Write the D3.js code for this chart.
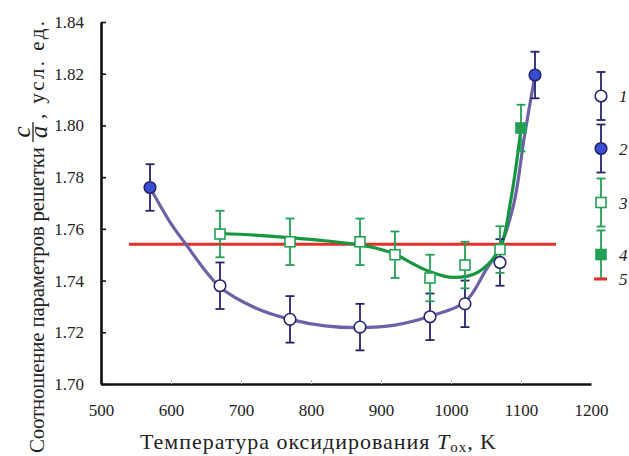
<!DOCTYPE html>
<html>
<head>
<meta charset="utf-8">
<script src="https://cdn.jsdelivr.net/npm/d3@7"></script>
<style>
  html, body { margin: 0; padding: 0; background: #fff; }
  svg { display: block; }
  svg text { font-family: "Liberation Serif", "Times New Roman", "DejaVu Serif", serif; fill: #222; }
</style>
</head>
<body>
<svg id="chart" width="629" height="456"></svg>
<script>
// Measured lattice ratio c/a versus oxidation temperature
const temps1 = [670, 770, 870, 970, 1020, 1070];
const vals1  = [1.738, 1.725, 1.722, 1.726, 1.731, 1.747];
const err1   = [0.009, 0.009, 0.009, 0.009, 0.009, 0.009];

const temps2 = [570, 1120];
const vals2  = [1.776, 1.8195];
const err2   = [0.009, 0.009];

const temps3 = [670, 770, 870, 920, 970, 1020, 1070];
const vals3  = [1.758, 1.755, 1.755, 1.750, 1.741, 1.746, 1.752];
const err3   = [0.009, 0.009, 0.009, 0.009, 0.009, 0.009, 0.009];

const temps4 = [1100];
const vals4  = [1.799];
const err4   = [0.009];

// Reference (ideal) ratio, line 5
const refValue = 1.754;
const refRange = [540, 1150];

// Fitted trend curves
const fitTempsA = [570, 600, 620, 670, 720, 770, 820, 870, 920, 970, 1020, 1050, 1070, 1090, 1105, 1120];
const fitValsA  = [1.776, 1.762, 1.7545, 1.7375, 1.7295, 1.725, 1.7225, 1.7218, 1.7228, 1.7262, 1.7317, 1.7441, 1.7528, 1.770, 1.7960, 1.8195];
const fitTempsB = [670, 720, 770, 820, 870, 895, 920, 945, 970, 1003, 1040, 1070, 1085, 1100];
const fitValsB  = [1.7582, 1.7576, 1.7566, 1.7554, 1.7538, 1.7524, 1.7502, 1.7466, 1.7434, 1.7412, 1.7435, 1.7528, 1.7705, 1.7986];

const xTicks = [500, 600, 700, 800, 900, 1000, 1100, 1200];
const yTicks = [1.70, 1.72, 1.74, 1.76, 1.78, 1.80, 1.82, 1.84];
const legendLabels = ["1", "2", "3", "4", "5"];

const serif = "Liberation Serif, Times New Roman, DejaVu Serif, serif";
const navy = "#26246f";
const lavender = "#6d62a8";
const blueFill = "#3a4fd0";
const green = "#23a055";
const greenLine = "#16973f";
const red = "#e5302a";

const svg = d3.select("#chart");
const x = d3.scaleLinear().domain([500, 1200]).range([101, 591]);
const y = d3.scaleLinear().domain([1.70, 1.84]).range([384, 22]);

// Axes
const gx = svg.append("g").attr("transform", `translate(0,${y(1.70)})`)
  .call(d3.axisBottom(x).tickValues(xTicks).tickSize(-4).tickSizeOuter(0).tickPadding(20).tickFormat(d3.format("d")));
gx.attr("font-family", serif).attr("font-size", 17);
gx.select(".domain").attr("stroke", "#111").attr("stroke-width", 2.6);
gx.selectAll(".tick line").attr("stroke", "#bbb").attr("stroke-width", 1)
  .filter(d => d === 500 || d === 1200).remove();
gx.selectAll(".tick text").style("font-size", "17px").attr("fill", "#222");

const gy = svg.append("g").attr("transform", `translate(${x(500)},0)`)
  .call(d3.axisLeft(y).tickValues(yTicks).tickSize(-5).tickSizeOuter(0).tickPadding(17).tickFormat(d3.format(".2f")));
gy.attr("font-family", serif).attr("font-size", 17);
gy.select(".domain").attr("stroke", "#111").attr("stroke-width", 2.6);
gy.selectAll(".tick line").attr("stroke", "#111").attr("stroke-width", 1.6);
gy.selectAll(".tick text").style("font-size", "17px").attr("fill", "#222");

// Reference line
svg.append("line")
  .attr("x1", x(refRange[0])).attr("x2", x(refRange[1]))
  .attr("y1", y(refValue)).attr("y2", y(refValue))
  .attr("stroke", red).attr("stroke-width", 3);

// Trend curves
const line = d3.line().x(d => x(d[0])).y(d => y(d[1])).curve(d3.curveCatmullRom.alpha(0.5));
svg.append("path").datum(d3.zip(fitTempsA, fitValsA)).attr("d", line)
  .attr("fill", "none").attr("stroke", lavender).attr("stroke-width", 3.2);
svg.append("path").datum(d3.zip(fitTempsB, fitValsB)).attr("d", line)
  .attr("fill", "none").attr("stroke", greenLine).attr("stroke-width", 3.2);

// Error bars
function errorBars(temps, vals, errs, color) {
  const g = svg.append("g").attr("stroke", color).attr("stroke-width", 1.8);
  temps.forEach((t, i) => {
    const cx = x(t), top = y(vals[i] + errs[i]), bot = y(vals[i] - errs[i]);
    g.append("line").attr("x1", cx).attr("x2", cx).attr("y1", top).attr("y2", bot);
    g.append("line").attr("x1", cx - 4.5).attr("x2", cx + 4.5).attr("y1", top).attr("y2", top);
    g.append("line").attr("x1", cx - 4.5).attr("x2", cx + 4.5).attr("y1", bot).attr("y2", bot);
  });
}
errorBars(temps1, vals1, err1, navy);
errorBars(temps2, vals2, err2, navy);
errorBars(temps3, vals3, err3, green);
errorBars(temps4, vals4, err4, green);

// Markers
function circles(temps, vals, fill) {
  svg.append("g").selectAll("circle").data(d3.zip(temps, vals)).join("circle")
    .attr("cx", d => x(d[0])).attr("cy", d => y(d[1])).attr("r", 5.8)
    .attr("fill", fill).attr("stroke", navy).attr("stroke-width", 1.6);
}
function squares(temps, vals, fill) {
  svg.append("g").selectAll("rect").data(d3.zip(temps, vals)).join("rect")
    .attr("x", d => x(d[0]) - 5).attr("y", d => y(d[1]) - 5)
    .attr("width", 10).attr("height", 10)
    .attr("fill", fill).attr("stroke", green).attr("stroke-width", 1.6);
}
circles(temps1, vals1, "#fff");
circles(temps2, vals2, blueFill);
squares(temps3, vals3, "#fff");
squares(temps4, vals4, green);

// Legend
const lg = svg.append("g");
const lx = 601;
const legendY = [96, 148.5, 202.5, 254.5, 279];
const legendErr = 24;
function legendBar(cy, color) {
  const g = lg.append("g").attr("stroke", color).attr("stroke-width", 1.8);
  g.append("line").attr("x1", lx).attr("x2", lx).attr("y1", cy - legendErr).attr("y2", cy + legendErr);
  g.append("line").attr("x1", lx - 4.5).attr("x2", lx + 4.5).attr("y1", cy - legendErr).attr("y2", cy - legendErr);
  g.append("line").attr("x1", lx - 4.5).attr("x2", lx + 4.5).attr("y1", cy + legendErr).attr("y2", cy + legendErr);
}
legendBar(legendY[0], navy);
lg.append("circle").attr("cx", lx).attr("cy", legendY[0]).attr("r", 5.8).attr("fill", "#fff").attr("stroke", navy).attr("stroke-width", 1.6);
legendBar(legendY[1], navy);
lg.append("circle").attr("cx", lx).attr("cy", legendY[1]).attr("r", 5.8).attr("fill", blueFill).attr("stroke", navy).attr("stroke-width", 1.6);
legendBar(legendY[2], green);
lg.append("rect").attr("x", lx - 5).attr("y", legendY[2] - 5).attr("width", 10).attr("height", 10).attr("fill", "#fff").attr("stroke", green).attr("stroke-width", 1.6);
legendBar(legendY[3], green);
lg.append("rect").attr("x", lx - 5).attr("y", legendY[3] - 5).attr("width", 10).attr("height", 10).attr("fill", green).attr("stroke", green).attr("stroke-width", 1.6);
lg.append("line").attr("x1", lx - 7).attr("x2", lx + 6).attr("y1", legendY[4]).attr("y2", legendY[4]).attr("stroke", red).attr("stroke-width", 3);
legendLabels.forEach((lab, i) => {
  lg.append("text").attr("x", 619).attr("y", legendY[i] + 6)
    .attr("font-size", 17).attr("font-style", "italic").text(lab);
});

// X axis title
const xt = svg.append("text").attr("x", 318).attr("y", 449).attr("text-anchor", "middle")
  .attr("font-size", 22).attr("textLength", 356).attr("lengthAdjust", "spacing");
xt.append("tspan").text("Температура оксидирования ");
xt.append("tspan").attr("font-style", "italic").text("T");
xt.append("tspan").attr("font-size", 15).attr("dy", 3).text("ox");
xt.append("tspan").attr("dy", -3).text(", K");

// Y axis title with the c/a fraction
const yt = svg.append("g").attr("transform", "translate(44,453) rotate(-90)");
yt.append("text").attr("x", 0).attr("y", 0).attr("font-size", 21)
  .attr("textLength", 306).attr("lengthAdjust", "spacing").text("Соотношение параметров решетки");
const w1 = 306;
const fx = w1 + 15;
yt.append("text").attr("x", fx).attr("y", -14).attr("text-anchor", "middle")
  .attr("font-size", 25).attr("font-style", "italic").text("c");
yt.append("line").attr("x1", fx - 10).attr("x2", fx + 10).attr("y1", -11).attr("y2", -11)
  .attr("stroke", "#222").attr("stroke-width", 1.3);
yt.append("text").attr("x", fx).attr("y", 3).attr("text-anchor", "middle")
  .attr("font-size", 25).attr("font-style", "italic").text("a");
yt.append("text").attr("x", fx + 13).attr("y", 0).attr("font-size", 21)
  .attr("textLength", 98).attr("lengthAdjust", "spacing").text(", усл. ед.");
</script>
</body>
</html>
